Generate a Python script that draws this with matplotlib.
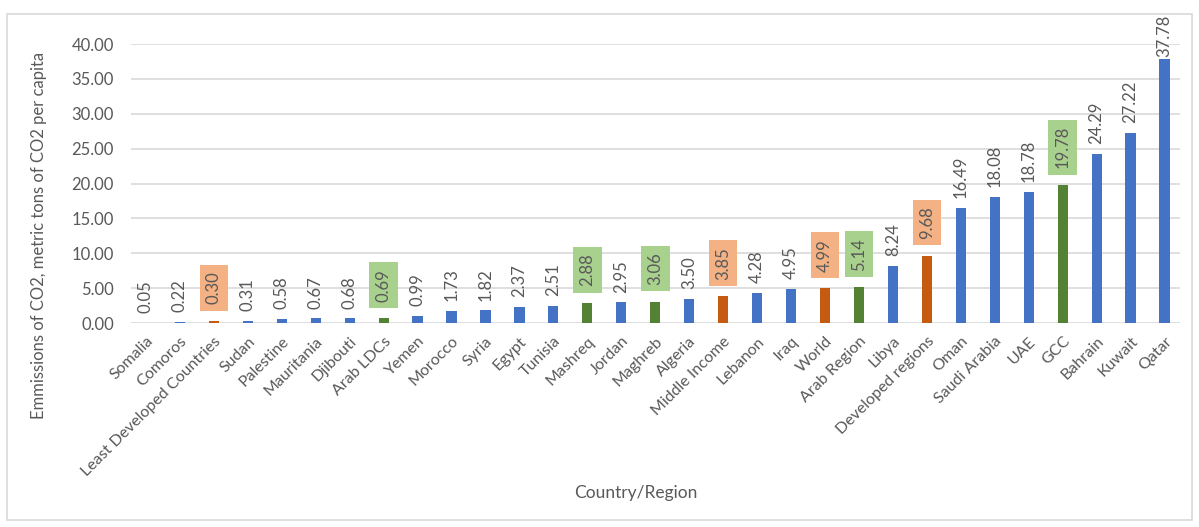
import matplotlib.pyplot as plt
from matplotlib.patches import Rectangle

plt.rcParams['font.family'] = ['Lato', 'DejaVu Sans']

countries = ['Somalia', 'Comoros', 'Least Developed Countries', 'Sudan', 'Palestine',
             'Mauritania', 'Djibouti', 'Arab LDCs', 'Yemen', 'Morocco', 'Syria', 'Egypt',
             'Tunisia', 'Mashreq', 'Jordan', 'Maghreb', 'Algeria', 'Middle Income',
             'Lebanon', 'Iraq', 'World', 'Arab Region', 'Libya', 'Developed regions',
             'Oman', 'Saudi Arabia', 'UAE', 'GCC', 'Bahrain', 'Kuwait', 'Qatar']
emissions = [0.05, 0.22, 0.30, 0.31, 0.58, 0.67, 0.68, 0.69, 0.99, 1.73, 1.82, 2.37,
             2.51, 2.88, 2.95, 3.06, 3.50, 3.85, 4.28, 4.95, 4.99, 5.14, 8.24, 9.68,
             16.49, 18.08, 18.78, 19.78, 24.29, 27.22, 37.78]
arab_groups = ['Arab LDCs', 'Mashreq', 'Maghreb', 'Arab Region', 'GCC']
world_groups = ['Least Developed Countries', 'Middle Income', 'World', 'Developed regions']

blue, green, orange = '#4472C4', '#548235', '#C55A11'
txt = '#595959'

fig = plt.figure(figsize=(11.99, 5.27), dpi=100)
fig.patches.append(Rectangle((7 / 1199, 7 / 527), 1185 / 1199, 506 / 527,
                             transform=fig.transFigure, fill=False,
                             edgecolor='#D9D9D9', lw=1.2))
ax = fig.add_axes([0.109, 0.387, 0.875, 0.5295])

colors = []
for c in countries:
    if c in arab_groups:
        colors.append(green)
    elif c in world_groups:
        colors.append(orange)
    else:
        colors.append(blue)

x = range(len(countries))
ax.bar(x, emissions, width=0.3, color=colors, zorder=3)

for i, (c, v) in enumerate(zip(countries, emissions)):
    box = None
    if c in arab_groups:
        box = dict(boxstyle='square,pad=0.38', fc='#A9D18E', ec='none')
    elif c in world_groups:
        box = dict(boxstyle='square,pad=0.38', fc='#F4B183', ec='none')
    off = 12 if box else 7
    if c == 'Qatar':
        off = 2
    ax.annotate(f'{v:.2f}', (i, v), xytext=(0, off), textcoords='offset points',
                rotation=90, ha='center', va='bottom', fontsize=12, color=txt,
                bbox=box, zorder=4)

ax.set_xlim(-0.45, len(countries) - 0.55)
ax.set_ylim(0, 40)
ax.set_yticks(range(0, 41, 5))
ax.set_yticklabels([f'{t:.2f}' for t in range(0, 41, 5)])
ax.set_xticks(list(x))
ax.set_xticklabels(countries, rotation=45, ha='right', rotation_mode='anchor')
ax.tick_params(axis='y', length=0, colors=txt, labelsize=12, pad=12)
ax.tick_params(axis='x', length=0, colors=txt, labelsize=11.5, pad=8)
ax.grid(axis='y', color='#D9D9D9', lw=1.2, zorder=0)
for s in ax.spines.values():
    s.set_visible(False)

ax.set_ylabel('Emmissions of CO2, metric tons of CO2 per capita', fontsize=12, color=txt)
ax.yaxis.set_label_coords(-0.080, 0.315)
fig.text(0.53, 0.055, 'Country/Region', ha='center', fontsize=12.5, color=txt)

fig.savefig('out.png', dpi=100)
